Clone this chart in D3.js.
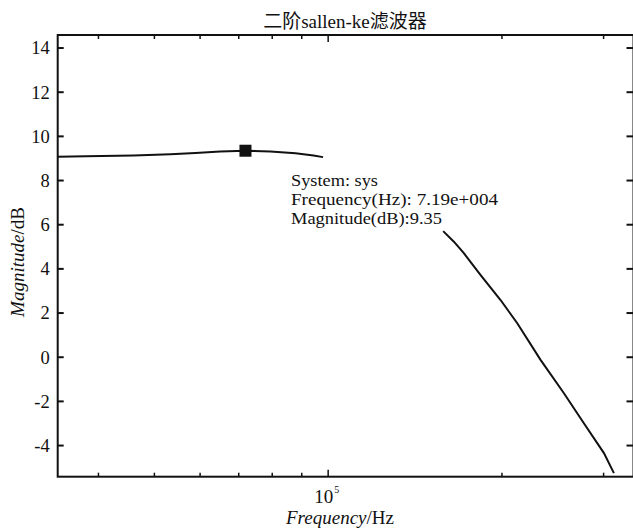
<!DOCTYPE html>
<html><head><meta charset="utf-8">
<script src="https://cdn.jsdelivr.net/npm/d3@7"></script>
<style>body{margin:0;background:#fff}svg{display:block}text{font-family:"Liberation Serif","Times New Roman","Noto Sans CJK SC",serif;fill:#111}</style>
</head><body><svg id="c" width="633" height="530"></svg>
<script>
const title = "二阶sallen-ke滤波器";
const freq1 = [3.40e4, 3.80e4, 4.60e4, 5.33e4, 5.89e4, 6.50e4, 7.19e4, 7.94e4, 8.78e4, 9.43e4, 9.80e4];
const mag1  = [9.08, 9.10, 9.13, 9.19, 9.25, 9.32, 9.35, 9.32, 9.24, 9.13, 9.06];
const freq2 = [1.582e5, 1.651e5, 1.718e5, 1.837e5, 1.989e5, 2.126e5, 2.333e5, 2.561e5, 2.773e5, 3.004e5, 3.126e5];
const mag2  = [5.71, 5.23, 4.71, 3.72, 2.59, 1.54, -0.12, -1.63, -2.99, -4.34, -5.25];
const yTicks = [-4, -2, 0, 2, 4, 6, 8, 10, 12, 14];
const xMinorTicks = [4e4, 5e4, 6e4, 7e4, 8e4, 9e4, 2e5, 3e5];
const xMajorTicks = [1e5];
const tipFreq = 7.19e4, tipMag = 9.35;
const tipLines = ["System: sys", "Frequency(Hz): 7.19e+004", "Magnitude(dB):9.35"];

const svg = d3.select("#c");
const L = 57.7, R = 633.5, T = 35, B = 476.7;
const x = d3.scaleLog().domain([3.4e4, 3.38e5]).range([L, R]);
const y = d3.scaleLinear().domain([-5.41, 14.59]).range([B, T]);

const g = svg.append("g");
g.append("rect").attr("x", L).attr("y", T).attr("width", R - L).attr("height", B - T)
  .attr("fill", "none").attr("stroke", "#111").attr("stroke-width", 2);

const yAxisL = d3.axisLeft(y).tickValues(yTicks).tickSize(0).tickPadding(8).tickFormat(d => String(d));
const ya = g.append("g").attr("transform", `translate(${L},0)`).call(yAxisL);
ya.select(".domain").remove();
ya.selectAll("text").style("font-size", "18.5px").attr("fill", "#111");
yTicks.forEach(v => {
  g.append("line").attr("x1", L).attr("x2", L + 6).attr("y1", y(v)).attr("y2", y(v)).attr("stroke", "#111").attr("stroke-width", 2);
  g.append("line").attr("x1", R - 7).attr("x2", R).attr("y1", y(v)).attr("y2", y(v)).attr("stroke", "#111").attr("stroke-width", 2);
});
xMinorTicks.forEach(v => {
  g.append("line").attr("x1", x(v)).attr("x2", x(v)).attr("y1", B).attr("y2", B - 4).attr("stroke", "#111").attr("stroke-width", 1.5);
  g.append("line").attr("x1", x(v)).attr("x2", x(v)).attr("y1", T).attr("y2", T + 4).attr("stroke", "#111").attr("stroke-width", 1.5);
});
xMajorTicks.forEach(v => {
  g.append("line").attr("x1", x(v)).attr("x2", x(v)).attr("y1", B).attr("y2", B - 7).attr("stroke", "#111").attr("stroke-width", 1.5);
  g.append("line").attr("x1", x(v)).attr("x2", x(v)).attr("y1", T).attr("y2", T + 7).attr("stroke", "#111").attr("stroke-width", 1.5);
  const t = g.append("text").attr("x", x(v) - 14).attr("y", B + 26).style("font-size", "19px");
  t.append("tspan").text("10");
  t.append("tspan").attr("dy", -10).attr("dx", 1).style("font-size", "10px").text(Math.round(Math.log10(v)));
});

const line = d3.line().x(d => x(d[0])).y(d => y(d[1]));
[[freq1, mag1], [freq2, mag2]].forEach(([f, m]) => {
  g.append("path").datum(f.map((v, i) => [v, m[i]])).attr("d", line)
    .attr("fill", "none").attr("stroke", "#111").attr("stroke-width", 2);
});
g.append("rect").attr("x", x(tipFreq) - 6).attr("y", y(tipMag) - 6).attr("width", 12).attr("height", 12).attr("fill", "#111");
const tipWidths = [87, 207, 151];
tipLines.forEach((s, i) => {
  g.append("text").attr("x", 291).attr("y", 186 + i * 19).style("font-size", "16.5px")
    .attr("textLength", tipWidths[i]).attr("lengthAdjust", "spacingAndGlyphs").text(s);
});

svg.append("text").attr("x", 345).attr("y", 28).attr("text-anchor", "middle").style("font-size", "19px").text(title);
const xl = svg.append("text").attr("x", 340).attr("y", 524).attr("text-anchor", "middle").style("font-size", "19px");
xl.append("tspan").style("font-style", "italic").text("Frequency");
xl.append("tspan").text("/Hz");
const yl = svg.append("text").attr("transform", `translate(24,262) rotate(-90)`).attr("text-anchor", "middle").style("font-size", "19px");
yl.append("tspan").style("font-style", "italic").text("Magnitude");
yl.append("tspan").text("/dB");
</script></body></html>
